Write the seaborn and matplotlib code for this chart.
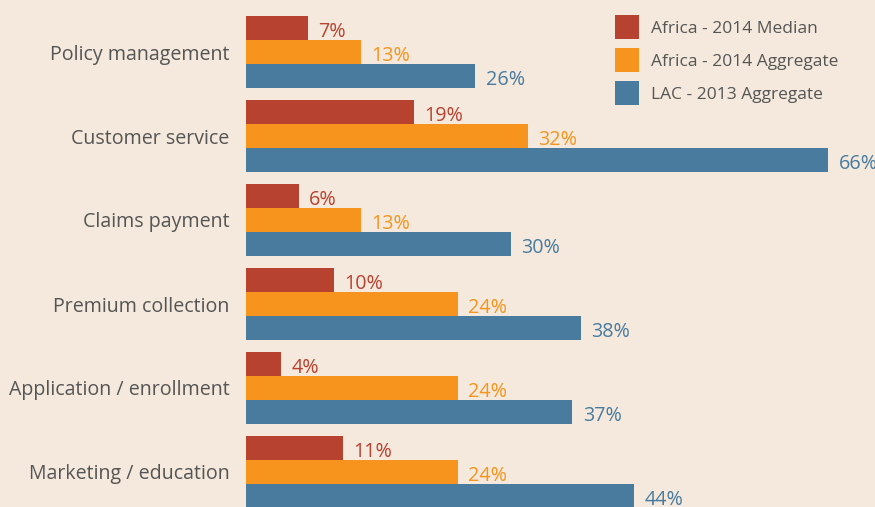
import matplotlib
matplotlib.use("Agg")
import matplotlib.pyplot as plt
import seaborn as sns
import pandas as pd
from matplotlib.patches import Patch

categories = ["Policy management", "Customer service", "Claims payment",
              "Premium collection", "Application / enrollment", "Marketing / education"]
series_names = ["Africa - 2014 Median", "Africa - 2014 Aggregate", "LAC - 2013 Aggregate"]
africa_median = [7, 19, 6, 10, 4, 11]
africa_aggregate = [13, 32, 13, 24, 24, 24]
lac_aggregate = [26, 66, 30, 38, 37, 44]
colors = ["#b84230", "#f7941e", "#497b9f"]

BG = "#f4e9dc"
TEXT = "#555555"

rows = []
for name, vals in zip(series_names, [africa_median, africa_aggregate, lac_aggregate]):
    for c, v in zip(categories, vals):
        rows.append({"category": c, "series": name, "value": v})
df = pd.DataFrame(rows)

sns.set_theme(style="white")
plt.rcParams["font.family"] = ["Open Sans", "DejaVu Sans"]

W, H = 875, 507
fig = plt.figure(figsize=(W / 100, H / 100), dpi=100, facecolor=BG)
ax = fig.add_axes([246 / W, 0, 1 - 246 / W, 1])
ax.set_facecolor(BG)

sns.barplot(data=df, y="category", x="value", hue="series", order=categories,
            hue_order=series_names, palette=colors, orient="h", width=0.857,
            saturation=1, dodge=True, ax=ax, legend=False, linewidth=0, errorbar=None)

for cont, col in zip(ax.containers, colors):
    for bar in cont:
        w = bar.get_width()
        ax.annotate(f"{w:.0f}%", (w, bar.get_y() + bar.get_height() / 2),
                    xytext=(7.5, -2.8), textcoords="offset points",
                    va="center", ha="left", color=col, fontsize=14.2)

scale = (828 - 246) / 66.0
ax.set_xlim(0, (W - 246) / scale)
ax.set_ylim((H - 52) / 84.0, -52 / 84.0)

ax.set_xlabel("")
ax.set_ylabel("")
ax.set_xticks([])
ax.tick_params(axis="y", length=0, pad=12, labelsize=14.1, labelcolor=TEXT)
for s in ax.spines.values():
    s.set_visible(False)

handles = [Patch(facecolor=c, edgecolor="none") for c in colors]
fs = 12.5
fspx = fs * 100 / 72
hh = (24 / fspx - 0.245) / 0.65
fig.legend(handles, series_names, loc="upper left",
           bbox_to_anchor=(615 / W, 1 - 15 / H), frameon=False,
           fontsize=fs, labelcolor=TEXT, borderpad=0, borderaxespad=0,
           handlelength=24 / fspx, handleheight=hh,
           labelspacing=(33 - 24) / fspx, handletextpad=12 / fspx)

fig.savefig("out.png", dpi=100, facecolor=BG)
